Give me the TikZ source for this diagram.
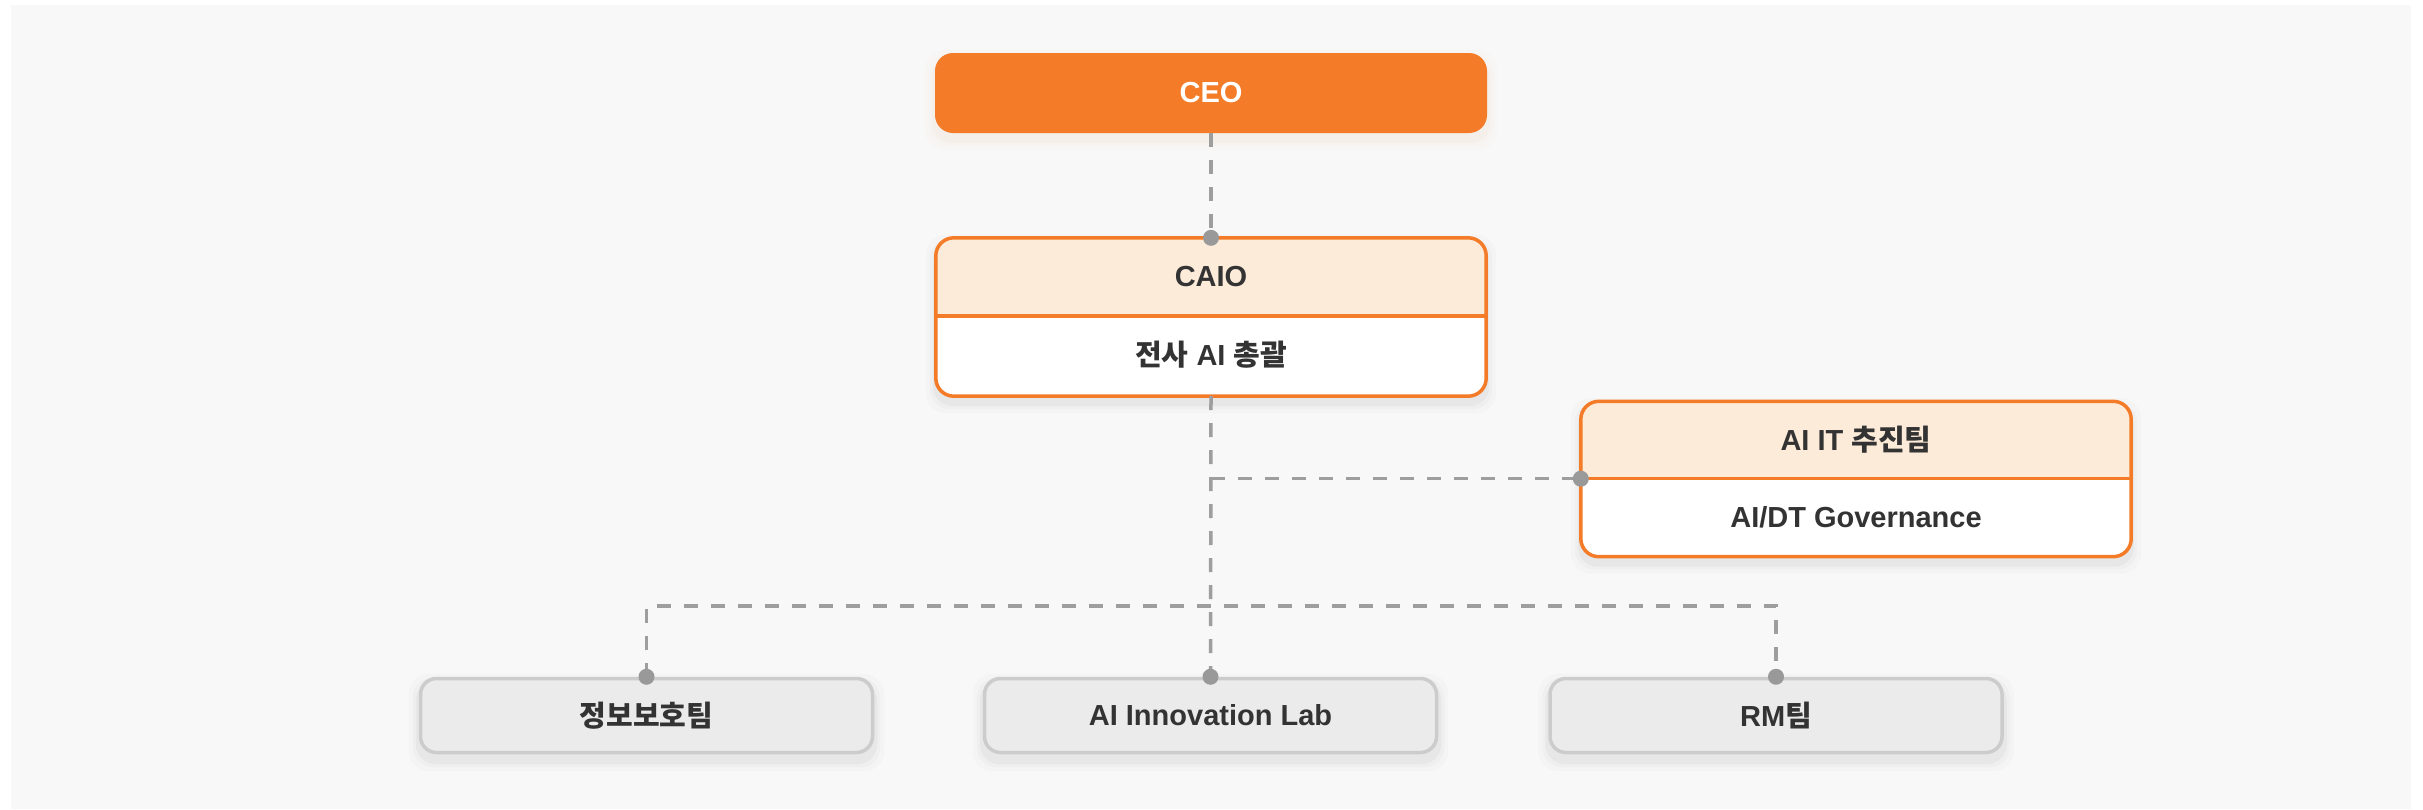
\documentclass[tikz,border=0pt]{standalone}
\usepackage{fontspec}
\setmainfont{Liberation Sans}
\newfontfamily\krfont{Noto Sans CJK KR}
\newcommand{\kr}[1]{{\krfont #1}}
\usetikzlibrary{calc,backgrounds}
\definecolor{orgC}{HTML}{F47B28}
\definecolor{hdrC}{HTML}{FDEBD9}
\definecolor{txtC}{HTML}{333333}
\definecolor{bgC}{HTML}{F8F8F8}
\definecolor{teamFill}{HTML}{EBEBEB}
\definecolor{teamLine}{HTML}{CCCCCC}
\definecolor{connC}{HTML}{9E9E9E}
\definecolor{dotC}{HTML}{999999}
\tikzset{
  lbl/.style={font=\fontsize{29}{34}\selectfont\bfseries, text=txtC, inner sep=0pt},
  ceobox/.style={lbl, text=white, fill=orgC, rounded corners=18pt, minimum width=552pt, minimum height=80pt},
  partbox/.style={lbl, minimum width=550pt},
  teambox/.style={lbl, fill=teamFill, draw=teamLine, line width=3.5pt, rounded corners=16pt, minimum width=452pt, minimum height=74pt},
  orgline/.style={draw=orgC, line width=3.5pt},
  conn/.style={draw=connC, line width=3.5pt, dash pattern=on 14pt off 13pt},
}
\newcommand{\softshadow}[3]{%
  \foreach \s/\o in {10/0.015, 6/0.02, 3/0.03}{%
    \fill[#3, opacity=\o, rounded corners=20pt] ($(#1)+(-\s,-\s+7)$) rectangle ($(#2)+(\s,\s+7)$);
  }%
}
\newcommand{\twobox}[2]{%
  \begin{pgfonlayer}{background}
    \softshadow{#1.north west}{#2.south east}{black}
    \fill[white, rounded corners=18pt] (#1.north west) rectangle (#2.south east);
    \begin{scope}
      \clip[rounded corners=18pt] (#1.north west) rectangle (#2.south east);
      \fill[hdrC] (#1.north west) rectangle (#1.south east);
    \end{scope}
  \end{pgfonlayer}
  \draw[orgline, rounded corners=18pt] (#1.north west) rectangle (#2.south east);
  \draw[orgline] (#1.south west) -- (#1.south east);
}
\begin{document}
\begin{tikzpicture}[x=1pt, y=-1pt]
\useasboundingbox (0,0) rectangle (2423,809);
\begin{pgfonlayer}{background}
  \fill[white] (0,0) rectangle (2423,809);
  \fill[bgC] (11,5) rectangle (2411,809);
\end{pgfonlayer}

% CEO
\node[ceobox] (ceo) at (1211,93) {CEO};
\begin{pgfonlayer}{background}
  \softshadow{ceo.north west}{ceo.south east}{orgC}
\end{pgfonlayer}

% CAIO
\node[partbox, minimum height=78pt] (caio) at (1211,277) {CAIO};
\node[partbox, minimum height=82pt] (caiob) at (1211,355) {\kr{전사} AI \kr{총괄}};
\twobox{caio}{caiob}

% AI IT
\node[partbox, minimum width=550pt, minimum height=77pt] (aiit) at (1856,440) {AI IT \kr{추진팀}};
\node[partbox, minimum width=550pt, minimum height=79pt] (aiitb) at (1856,517) {AI/DT Governance};
\twobox{aiit}{aiitb}

% Teams
\node[teambox] (sec) at (646.5,715.5) {\kr{정보보호팀}};
\node[teambox] (lab) at (1210.5,715.5) {AI Innovation Lab};
\node[teambox] (rm) at (1776,715.5) {RM\kr{팀}};
\begin{pgfonlayer}{background}
  \softshadow{sec.north west}{sec.south east}{black}
  \softshadow{lab.north west}{lab.south east}{black}
  \softshadow{rm.north west}{rm.south east}{black}
\end{pgfonlayer}

% Connectors
\coordinate (j1) at (caiob.south |- aiit.south west);
\coordinate (j2) at ($(caiob.south |- sec.north)+(0,-71)$);
\draw[conn] (ceo.south) -- (caio.north);
\draw[conn] (caiob.south) -- (lab.north);
\draw[conn] (j1) -- (aiit.south west);
\draw[conn] (sec.north) |- (j2) -| (rm.north);

% Dots
\fill[dotC] (caio.north) circle (8pt);
\fill[dotC] (aiit.south west) circle (8pt);
\fill[dotC] (sec.north) circle (8pt);
\fill[dotC] (lab.north) circle (8pt);
\fill[dotC] (rm.north) circle (8pt);
\end{tikzpicture}
\end{document}
